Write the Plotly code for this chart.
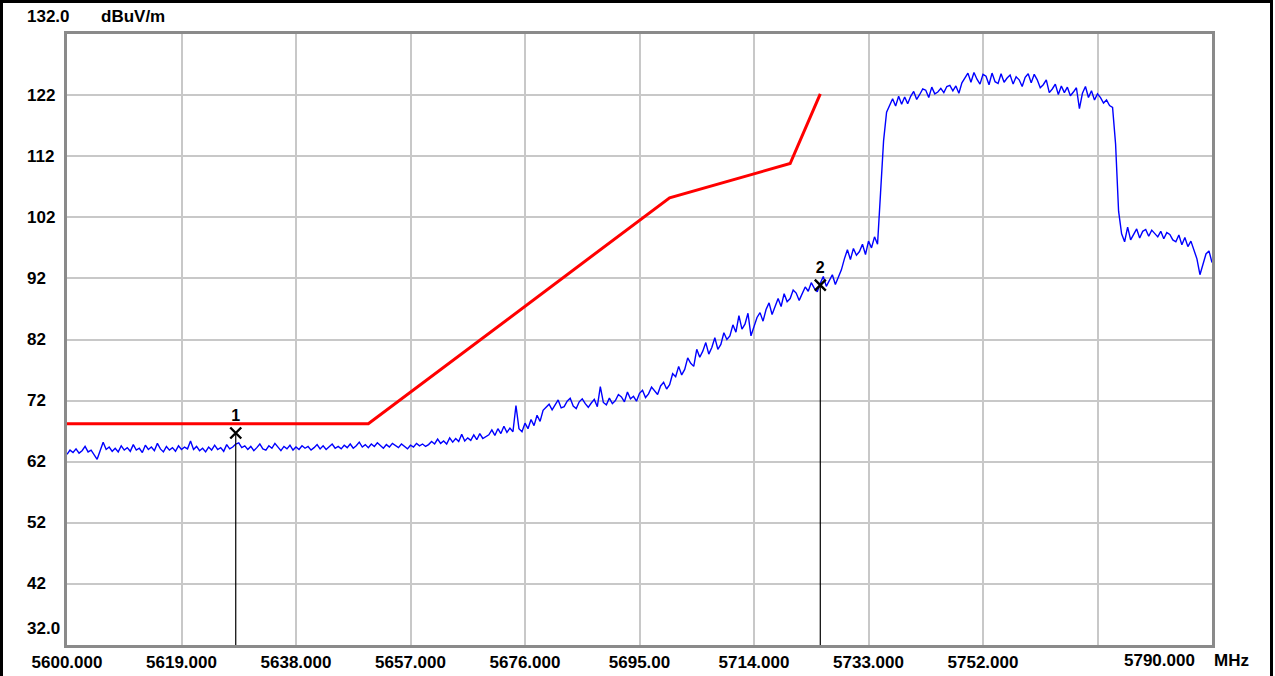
import numpy as np
import plotly.graph_objects as go

# ---------------- data ----------------
x_start, x_stop = 5600.0, 5790.0
x_tick_vals = [5600, 5619, 5638, 5657, 5676, 5695, 5714, 5733, 5752, 5771, 5790]
x_tick_text = ["5600.000", "5619.000", "5638.000", "5657.000", "5676.000",
               "5695.00", "5714.000", "5733.000", "5752.000", "", ""]
y_tick_vals = [42, 52, 62, 72, 82, 92, 102, 112, 122]
y_tick_text = ["42", "52", "62", "72", "82", "92", "102", "112", "122"]
y_min, y_max = 32.0, 132.0
unit_y = "dBuV/m"
unit_x = "MHz"

# limit line (red)
limit_freq = [5600, 5650, 5700, 5720, 5725]
limit_level = [68.2, 68.2, 105.2, 110.8, 122.2]

# measured trace (blue), 0.5 MHz steps 5600..5790
trace_level = [
    # 5600-5610
    63.2, 63.9, 63.5, 64.1, 63.4, 63.8, 64.5, 63.6, 63.9, 63.1,
    62.4, 63.8, 65.2, 64.0, 64.4, 63.7, 64.2, 63.6, 64.6, 63.9,
    # 5610-5620
    64.3, 63.7, 64.8, 63.9, 64.2, 63.5, 64.7, 64.0, 64.4, 63.8,
    65.0, 64.1, 63.6, 64.5, 63.9, 64.3, 63.7, 64.6, 64.0, 64.4,
    # 5620-5630
    64.1, 65.4, 64.0, 64.5, 63.8, 64.2, 63.6, 64.4, 63.9, 64.7,
    64.0, 64.3, 63.7, 64.8, 64.1, 64.4, 64.9, 65.1, 64.3, 64.6,
    # 5630-5640
    64.0, 64.5, 63.8, 64.3, 64.9, 64.1, 63.9, 64.6, 64.2, 65.0,
    64.3, 63.8, 64.5, 64.1, 64.7, 63.9, 64.4, 64.0, 64.6, 64.2,
    # 5640-5650
    64.5, 63.9, 64.3, 64.8, 64.1, 64.6, 64.0, 64.4, 64.9, 64.2,
    64.5, 64.1, 64.7, 64.3, 64.9, 64.2, 64.6, 65.2, 64.4, 64.8,
    # 5650-5660
    64.3, 64.9, 64.5, 65.1, 64.6, 64.2, 64.8, 64.4, 65.0, 64.6,
    64.3, 64.9, 64.5, 64.1, 64.7, 64.4, 65.0, 64.6, 64.9, 64.5,
    # 5660-5670
    64.8, 65.3, 64.9, 65.7, 65.0, 65.4, 64.9, 65.9, 65.2, 65.8,
    65.3, 66.5, 65.4, 65.9, 65.5, 66.4, 65.6, 66.6, 65.8, 66.1,
    # 5670-5680
    66.4, 67.2, 66.3, 67.4, 66.6, 67.8, 66.8, 67.5, 66.9, 71.2,
    67.4, 66.9, 68.3, 67.4, 68.9, 67.9, 69.6, 68.6, 70.4, 70.9,
    # 5680-5690
    71.4, 70.5, 71.2, 72.1, 70.8, 71.0, 71.9, 72.4, 71.1, 70.7,
    71.8, 72.3, 71.5, 70.9, 71.6, 72.2, 71.0, 74.3, 71.7, 71.3,
    # 5690-5700
    72.4, 71.5, 72.0, 73.0, 72.6, 71.8, 73.4, 72.3, 72.7, 71.9,
    73.2, 73.7, 72.5, 73.1, 74.2, 73.5, 73.0, 74.4, 75.0, 73.9,
    # 5700-5710
    74.6, 76.4, 75.9, 77.6, 76.2, 77.1, 79.0, 78.1, 77.6, 80.4,
    79.1, 80.1, 81.5, 79.6, 80.7, 82.3, 80.4, 81.2, 83.1, 82.0,
    # 5710-5720
    82.6, 84.4, 83.2, 85.9, 83.7, 84.5, 86.3, 82.6, 84.1, 85.6,
    86.4, 85.0, 86.9, 88.0, 86.1, 87.3, 88.7, 87.4, 89.5, 88.2,
    # 5720-5730
    88.7, 90.1, 89.6, 88.4, 89.5, 90.6, 89.9, 91.3, 90.4, 89.8,
    91.2, 92.3, 90.7, 91.6, 92.6, 91.0, 92.1, 93.4, 95.2, 96.7,
    # 5730-5740
    95.1, 96.9, 95.8, 96.4, 97.6, 95.9, 98.1, 97.0, 98.8, 97.6,
    106.0, 114.5, 119.2, 120.3, 121.4, 120.2, 121.8, 120.5, 121.7, 120.6,
    # 5740-5750
    121.8, 122.6, 121.3, 122.1, 123.0, 122.8, 121.6, 123.3, 122.2, 122.5,
    123.1, 122.4, 123.4, 123.6, 122.7, 123.5, 122.3, 124.0, 124.8, 125.6,
    # 5750-5760
    124.1, 125.7, 124.6, 123.8, 125.4, 125.1, 123.7, 125.6, 124.2, 123.9,
    125.5, 124.1, 124.8, 125.3, 123.8, 125.0, 124.5, 123.4, 124.9, 125.5,
    # 5760-5770
    124.0, 125.4, 124.5, 123.2, 123.7, 124.5, 122.4, 123.0, 123.8, 122.1,
    123.5, 122.4, 123.3, 121.9, 122.5, 123.2, 119.8, 122.3, 123.4, 121.6,
    # 5770-5780
    122.7, 121.2, 122.2, 121.6, 120.7, 121.2, 120.3, 120.0, 114.0, 103.0,
    99.3, 98.0, 100.4, 98.3, 99.2, 100.1, 98.6, 99.7, 100.0, 98.9,
    # 5780-5790
    99.9, 99.3, 98.8, 99.7, 98.5, 99.5, 99.2, 98.3, 98.0, 99.1,
    97.5, 98.7, 97.2, 98.1, 96.5, 95.2, 92.6, 94.4, 96.0, 96.5, 94.6,
]
trace_freq = np.linspace(x_start, x_stop, len(trace_level))

# markers
marker_ids = ["1", "2"]
marker_freq = [5628.0, 5725.0]
marker_level = [66.7, 90.9]

# ---------------- figure ----------------
FONT = "Liberation Sans, Arial, sans-serif"
FS = 17
fig = go.Figure()

fig.add_trace(go.Scatter(x=limit_freq, y=limit_level, mode="lines",
                         line=dict(color="#ff0000", width=3), hoverinfo="skip"))
fig.add_trace(go.Scatter(x=trace_freq, y=trace_level, mode="lines",
                         line=dict(color="#0000ff", width=1.4), hoverinfo="skip"))
for f, lv in zip(marker_freq, marker_level):
    fig.add_trace(go.Scatter(x=[f, f], y=[lv, y_min], mode="lines",
                             line=dict(color="black", width=1.2), hoverinfo="skip"))
fig.add_trace(go.Scatter(
    x=marker_freq, y=marker_level, mode="markers+text",
    text=[f"<b>{m}</b>" for m in marker_ids], textposition="top center",
    textfont=dict(family=FONT, size=16, color="black"),
    marker=dict(symbol="x-thin", size=11, line=dict(color="black", width=2.4)),
    hoverinfo="skip"))

L, R, T, B = 67, 63, 34, 31
W, H = 1275, 676
pw, ph = W - L - R, H - T - B

def px_x(px):
    return (px - L) / pw

def px_y(py):
    return (H - B - py) / ph

def bold(s):
    return f"<b>{s}</b>"

tf = dict(family=FONT, size=FS, color="black")
annotations = []
for val, txt in zip(y_tick_vals, y_tick_text):
    annotations.append(dict(x=px_x(25), xref="paper", y=val, yref="y", text=bold(txt),
                            showarrow=False, xanchor="left", yanchor="middle", font=tf))
annotations.append(dict(x=px_x(25), xref="paper", y=px_y(17), yref="paper",
                        text=bold(f"{y_max:.1f}"), showarrow=False, xanchor="left",
                        yanchor="middle", font=tf))
annotations.append(dict(x=px_x(99), xref="paper", y=px_y(17), yref="paper",
                        text=bold(unit_y), showarrow=False, xanchor="left",
                        yanchor="middle", font=tf))
annotations.append(dict(x=px_x(25), xref="paper", y=px_y(628), yref="paper",
                        text=bold(f"{y_min:.1f}"), showarrow=False, xanchor="left",
                        yanchor="middle", font=tf))
annotations.append(dict(x=px_x(1159), xref="paper", y=px_y(660), yref="paper",
                        text=bold(f"{x_stop:.3f}"), showarrow=False, xanchor="center",
                        yanchor="middle", font=tf))
annotations.append(dict(x=px_x(1212), xref="paper", y=px_y(660), yref="paper",
                        text=bold(unit_x), showarrow=False, xanchor="left",
                        yanchor="middle", font=tf))

shapes = [dict(type="rect", xref="paper", yref="paper",
               x0=px_x(1.5), x1=px_x(1271.5), y0=px_y(700), y1=px_y(1.5),
               line=dict(color="black", width=3), fillcolor="rgba(0,0,0,0)", layer="above")]

fig.update_layout(
    width=W, height=H,
    margin=dict(l=L, r=R, t=T, b=B, autoexpand=False),
    paper_bgcolor="white", plot_bgcolor="white",
    showlegend=False,
    font=dict(family=FONT, size=FS, color="black"),
    annotations=annotations, shapes=shapes,
    xaxis=dict(range=[x_start, x_stop], tickmode="array", tickvals=x_tick_vals,
               ticktext=[bold(t) if t else "" for t in x_tick_text],
               showgrid=True, gridcolor="#c8c8c8", gridwidth=1.5,
               showline=True, linecolor="#8a8a8a", linewidth=3, mirror=True,
               ticks="", zeroline=False, automargin=False, ticklabelstandoff=0,
               tickfont=tf),
    yaxis=dict(range=[y_min, y_max], tickmode="array", tickvals=y_tick_vals,
               showticklabels=False, showgrid=True, gridcolor="#c8c8c8", gridwidth=1.5,
               showline=True, linecolor="#8a8a8a", linewidth=3, mirror=True,
               ticks="", zeroline=False, automargin=False),
)

fig.write_html("out.html", config={"displayModeBar": False},
               post_script="document.body.style.margin='0';")
